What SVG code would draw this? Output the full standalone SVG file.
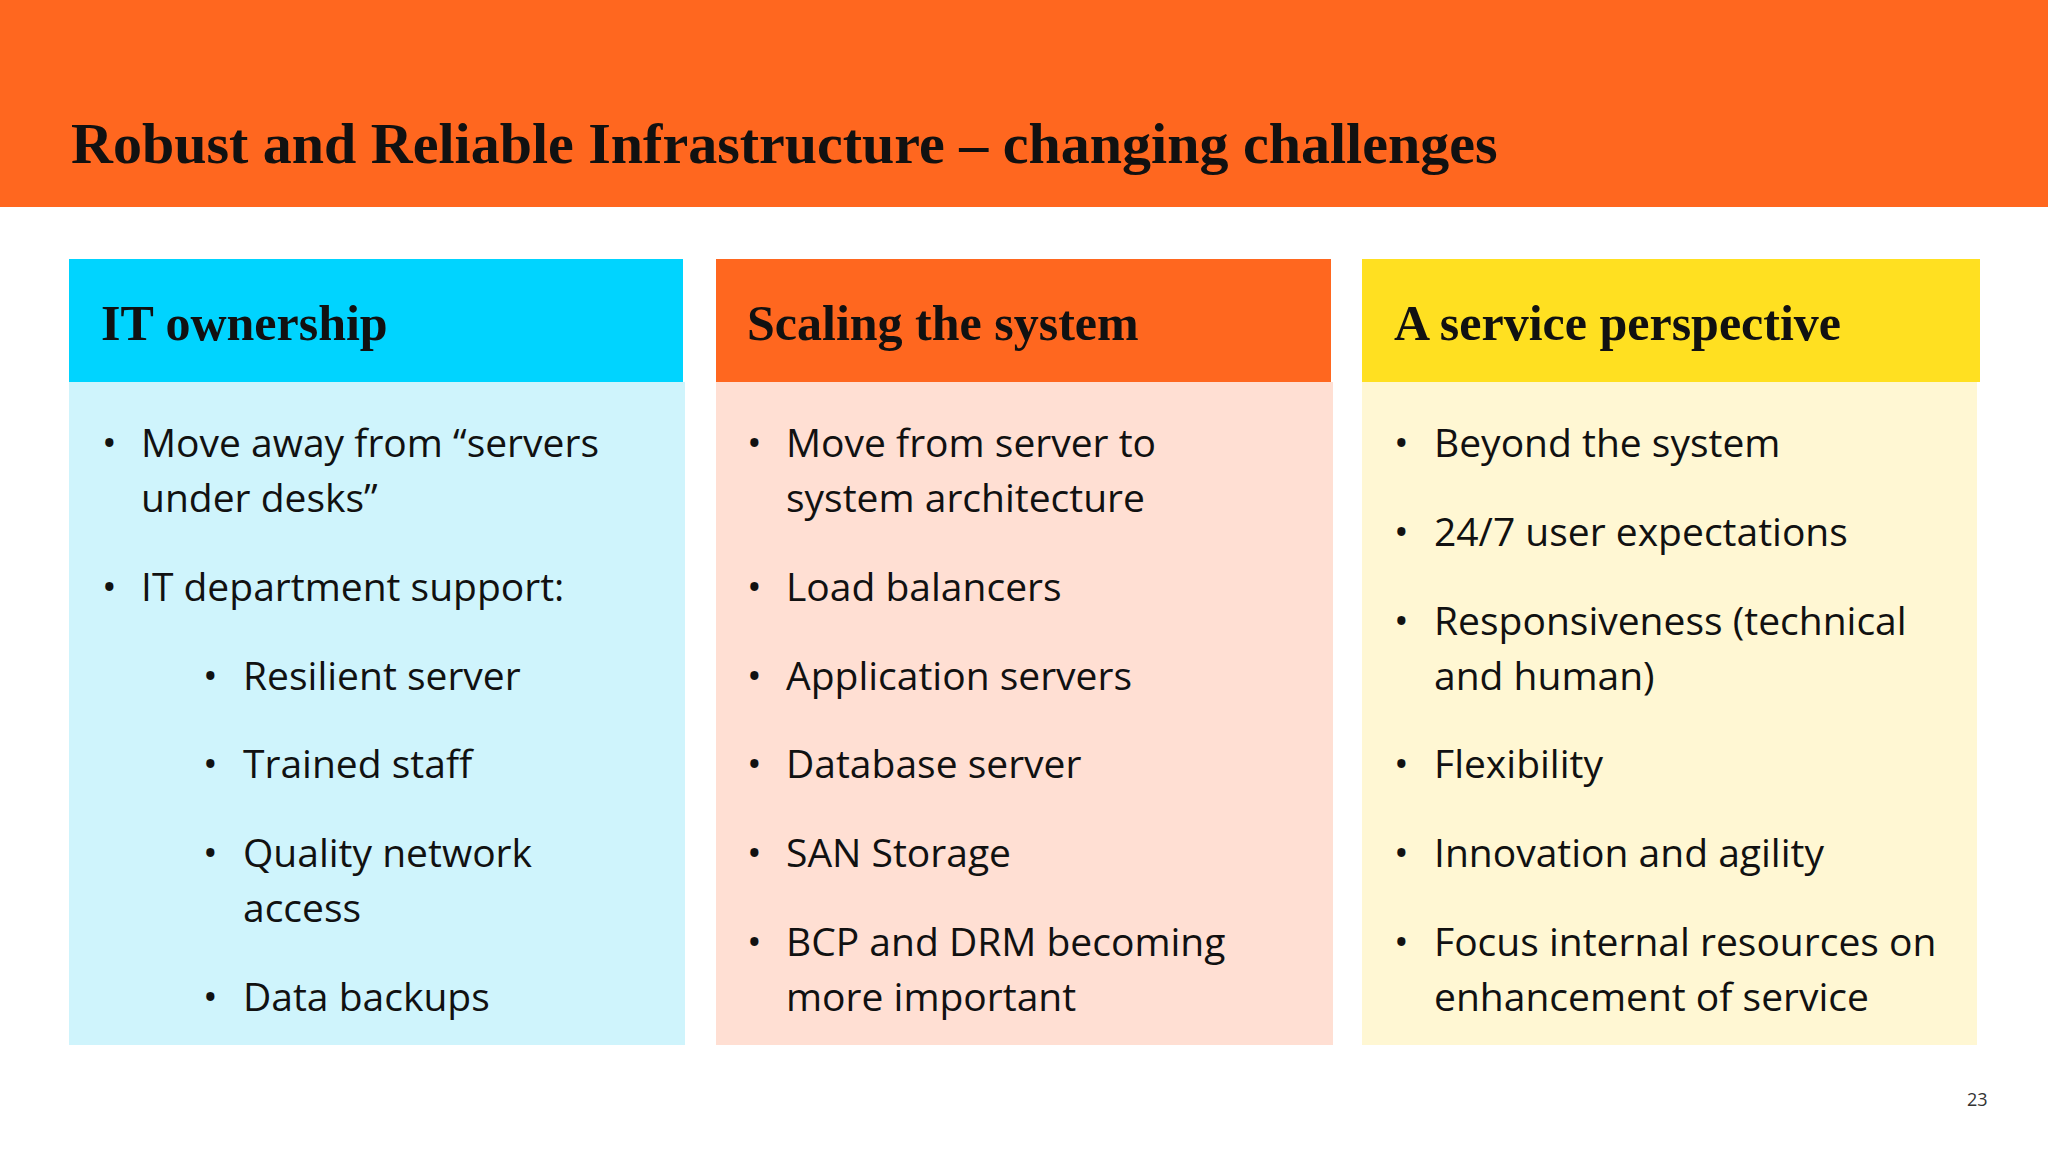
<svg xmlns="http://www.w3.org/2000/svg" width="2048" height="1152" viewBox="0 0 2048 1152">
<style>
.t{font-family:"Liberation Serif",serif;font-weight:bold;fill:#111}
.b{font-family:"Open Sans","Liberation Sans",sans-serif;font-size:39px;fill:#111}
</style>
<rect width="2048" height="1152" fill="#fff"/>
<rect width="2048" height="207" fill="#FF671F"/>
<text class="t" x="71" y="163" font-size="58">Robust and Reliable Infrastructure – changing challenges</text>
<g id="col1">
<rect x="69" y="259" width="614" height="123" fill="#00D4FF"/>
<rect x="69" y="382" width="616" height="663" fill="#CFF4FC"/>
<text class="t" x="101" y="340" font-size="50">IT ownership</text>
<g class="b">
<text x="102" y="457">•</text><text x="141" y="457">Move away from “servers</text>
<text x="141" y="512">under desks”</text>
<text x="102" y="601">•</text><text x="141" y="601">IT department support:</text>
<text x="203" y="690">•</text><text x="243" y="690">Resilient server</text>
<text x="203" y="778">•</text><text x="243" y="778">Trained staff</text>
<text x="203" y="867">•</text><text x="243" y="867">Quality network</text>
<text x="243" y="922">access</text>
<text x="203" y="1011">•</text><text x="243" y="1011">Data backups</text>
</g></g>
<g id="col2">
<rect x="716" y="259" width="615" height="123" fill="#FF671F"/>
<rect x="716" y="382" width="617" height="663" fill="#FFDFD3"/>
<text class="t" x="747" y="340" font-size="50">Scaling the system</text>
<g class="b">
<text x="747" y="457">•</text><text x="786" y="457">Move from server to</text>
<text x="786" y="512">system architecture</text>
<text x="747" y="601">•</text><text x="786" y="601">Load balancers</text>
<text x="747" y="690">•</text><text x="786" y="690">Application servers</text>
<text x="747" y="778">•</text><text x="786" y="778">Database server</text>
<text x="747" y="867">•</text><text x="786" y="867">SAN Storage</text>
<text x="747" y="956">•</text><text x="786" y="956">BCP and DRM becoming</text>
<text x="786" y="1011">more important</text>
</g></g>
<g id="col3">
<rect x="1362" y="259" width="618" height="123" fill="#FFE021"/>
<rect x="1362" y="382" width="615" height="663" fill="#FFF7D3"/>
<text class="t" x="1394" y="340" font-size="50">A service perspective</text>
<g class="b">
<text x="1394" y="457">•</text><text x="1434" y="457">Beyond the system</text>
<text x="1394" y="546">•</text><text x="1434" y="546">24/7 user expectations</text>
<text x="1394" y="635">•</text><text x="1434" y="635">Responsiveness (technical</text>
<text x="1434" y="690">and human)</text>
<text x="1394" y="778">•</text><text x="1434" y="778">Flexibility</text>
<text x="1394" y="867">•</text><text x="1434" y="867">Innovation and agility</text>
<text x="1394" y="956">•</text><text x="1434" y="956">Focus internal resources on</text>
<text x="1434" y="1011">enhancement of service</text>
</g></g>
<text x="1967" y="1106" font-family="Open Sans,sans-serif" font-size="18" fill="#333">23</text>
</svg>
